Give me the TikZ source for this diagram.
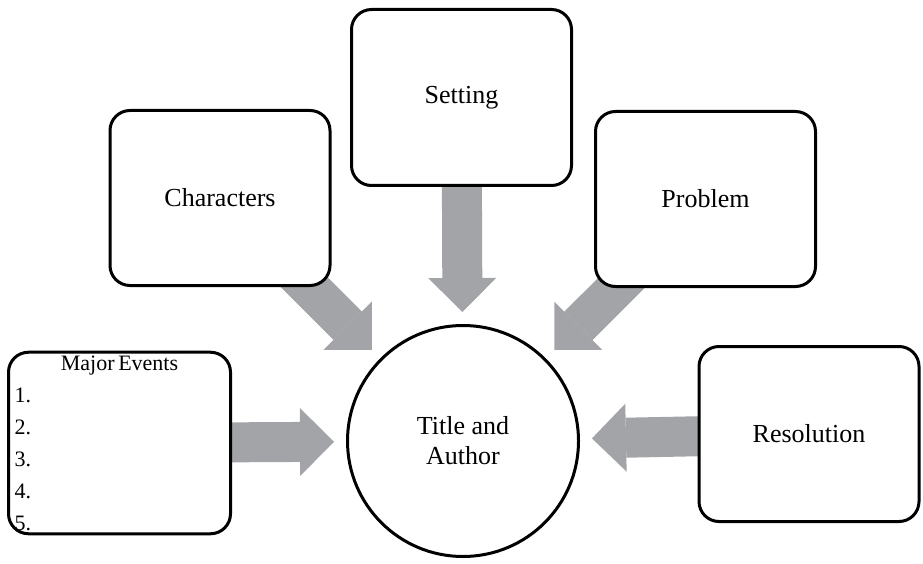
\documentclass[tikz,border=0pt]{standalone}
\usepackage{fontspec}
\setmainfont{Liberation Serif}
\usetikzlibrary{positioning, arrows.meta, backgrounds}
\definecolor{arrowgray}{RGB}{162,164,168}

\begin{document}
\begin{tikzpicture}
  [x=1pt,y=-1pt,
   basicbox/.style={draw,rectangle,rounded corners=20pt,line width=3pt,fill=white,minimum width=220pt,minimum height=175pt,font=\fontsize{26}{30}\selectfont},
   listbox/.style={basicbox,minimum height=177pt,text width=210pt,inner xsep=6pt,align=left,font=\fontsize{22}{32}\selectfont},
   titlecircle/.style={draw,circle,line width=3pt,fill=white,minimum size=231pt,align=center,font=\fontsize{26}{30}\selectfont},
   bigarrow/.style={draw=arrowgray,line width=40pt,shorten >=12pt,-{Triangle[width=68pt,length=34pt,line width=0pt]}}]
  \useasboundingbox (0,0) rectangle (923,564);
  \node (title) at (463,441) [titlecircle] {Title and\\Author};
  \node (characters) at (220,198) [basicbox] {Characters};
  \node (setting) at (461.5,97.5) [basicbox,minimum height=176pt] {Setting};
  \node (problem) at (705.5,199) [basicbox] {Problem};
  \node (resolution) at (809,434) [basicbox] {Resolution};
  \node (events) at (119.5,443) [listbox] {\makebox[210pt]{Major\,Events}\\1.\\2.\\3.\\4.\\5.};
  \begin{scope}[on background layer]
    \foreach \from in {characters,setting,problem,events,resolution}
      \draw [bigarrow] (\from.center) -- (title);
  \end{scope}
\end{tikzpicture}
\end{document}
